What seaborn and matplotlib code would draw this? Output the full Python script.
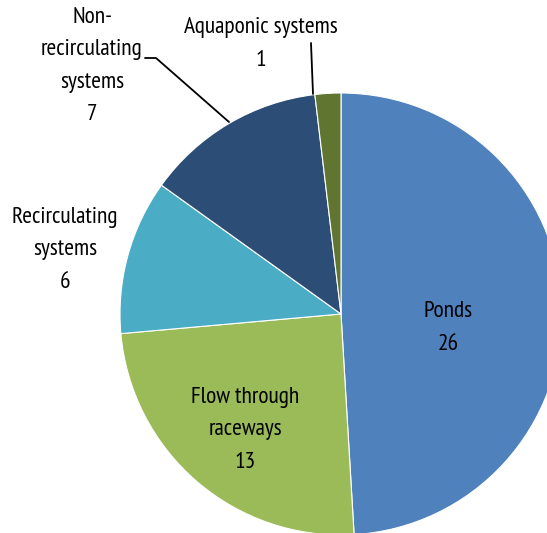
import seaborn as sns
import matplotlib.pyplot as plt

# aquaculture system counts
labels = ['Ponds', 'Flow through\nraceways', 'Recirculating\nsystems',
          'Non-\nrecirculating\nsystems', 'Aquaponic systems']
counts = [26, 13, 6, 7, 1]
colors = ['#4F81BD', '#9BBB59', '#4BACC6', '#2C4D75', '#5F7530']

sns.set_style('white')
plt.rcParams['font.family'] = ['PT Sans Narrow', 'DejaVu Sans']

fig = plt.figure(figsize=(5.47, 5.33), dpi=100)
ax = fig.add_axes([0, 0, 1, 1])

cx, cy, r = 341, 533 - 314, 221
ax.pie(counts, colors=colors, startangle=90, counterclock=False,
       center=(cx, cy), radius=r, frame=True,
       wedgeprops=dict(edgecolor='white', linewidth=0.8))
ax.set_xlim(0, 547)
ax.set_ylim(0, 533)
ax.set_aspect('equal')
ax.axis('off')

fs = 16.8
txt = dict(ha='center', va='center', fontsize=fs, linespacing=1.72, color='black')
ax.text(448, 533 - 328, f'{labels[0]}\n{counts[0]}', **txt)
ax.text(245, 533 - 430, f'{labels[1]}\n{counts[1]}', **txt)
ax.text(65, 533 - 250, f'{labels[2]}\n{counts[2]}', **txt)
ax.text(92, 533 - 66, f'{labels[3]}\n{counts[3]}', **txt)
ax.text(261, 533 - 44, f'{labels[4]}\n{counts[4]}', **txt)

# leader lines
ax.plot([145, 156, 229], [533 - 58, 533 - 58, 533 - 122], color='black', lw=1.3)
ax.plot([311, 313], [533 - 43, 533 - 94], color='black', lw=1.3)

fig.savefig('out.png', dpi=100)
